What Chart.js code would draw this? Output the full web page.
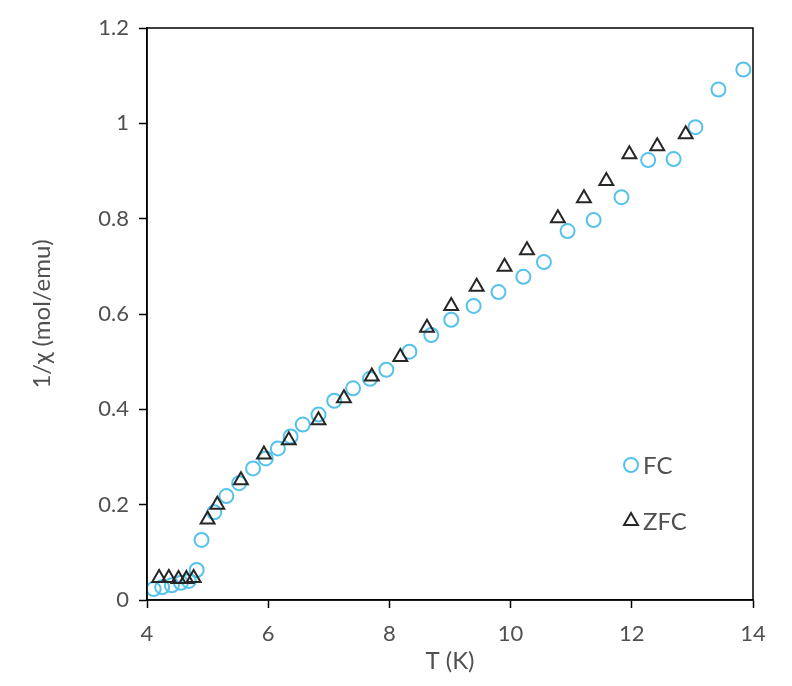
<!DOCTYPE html>
<html>
<head>
<meta charset="utf-8">
<script src="https://cdn.jsdelivr.net/npm/chart.js@4/dist/chart.umd.min.js"></script>
<style>
  html, body { margin: 0; padding: 0; background: #fff; }
  #wrap { width: 792px; height: 686px; }
</style>
</head>
<body>
<div id="wrap"><canvas id="chart" width="792" height="686"></canvas></div>
<script>
// ── Data ─────────────────────────────────────────────────
const fcT   = [4.11, 4.25, 4.41, 4.56, 4.69, 4.82, 4.90, 5.11, 5.31, 5.52, 5.75, 5.96, 6.16, 6.37,
               6.57, 6.83, 7.09, 7.40, 7.68, 7.95, 8.33, 8.69, 9.02, 9.39, 9.80, 10.21, 10.55,
               10.94, 11.37, 11.83, 12.27, 12.69, 13.05, 13.43, 13.84];
const fcInv = [0.023, 0.027, 0.031, 0.036, 0.040, 0.063, 0.126, 0.184, 0.218, 0.245, 0.276, 0.297, 0.318, 0.343,
               0.368, 0.389, 0.418, 0.444, 0.464, 0.483, 0.521, 0.556, 0.588, 0.617, 0.646, 0.678, 0.709,
               0.774, 0.797, 0.845, 0.923, 0.925, 0.992, 1.071, 1.113];

const zfcT   = [4.20, 4.36, 4.52, 4.65, 4.77, 5.00, 5.16, 5.55, 5.93, 6.34, 6.83, 7.25, 7.71, 8.18,
                8.62, 9.02, 9.44, 9.90, 10.27, 10.78, 11.21, 11.58, 11.96, 12.42, 12.89];
const zfcInv = [0.046, 0.046, 0.044, 0.044, 0.046, 0.169, 0.200, 0.251, 0.305, 0.335, 0.377, 0.423, 0.469, 0.510,
                0.571, 0.617, 0.657, 0.699, 0.734, 0.801, 0.843, 0.879, 0.935, 0.952, 0.977];

const xTicks = [4, 6, 8, 10, 12, 14];
const yTicks = [0, 0.2, 0.4, 0.6, 0.8, 1, 1.2];
const seriesNames = ['FC', 'ZFC'];

const FC_COLOR  = '#55c2ec';
const ZFC_COLOR = '#262626';
const TEXT = '#505050';
const FONT = 'Lato, "Open Sans", sans-serif';

const toPts = (xs, ys) => xs.map((x, i) => ({ x, y: ys[i] }));

// ── Plot frame + in-plot legend ──────────────────────────
const framePlugin = {
  id: 'frame',
  afterDraw(chart) {
    const { ctx, chartArea: a } = chart;
    ctx.save();
    ctx.strokeStyle = '#000';
    ctx.lineWidth = 1.5;
    ctx.strokeRect(a.left, a.top, a.right - a.left, a.bottom - a.top);

    // legend inside the plot, lower right
    const items = [
      { text: seriesNames[0], style: 'circle',   color: FC_COLOR,  y: a.top + 437 },
      { text: seriesNames[1], style: 'triangle', color: ZFC_COLOR, y: a.top + 493 },
    ];
    const lx = a.left + 484;
    ctx.font = '24px ' + FONT;
    ctx.textBaseline = 'middle';
    items.forEach(it => {
      ctx.lineWidth = 2;
      ctx.strokeStyle = it.color;
      ctx.fillStyle = 'rgba(0,0,0,0)';
      Chart.helpers.drawPoint(ctx, { pointStyle: it.style, radius: it.style === 'circle' ? 7 : 8, rotation: 0, borderWidth: 2 }, lx, it.y);
      ctx.fillStyle = TEXT;
      ctx.fillText(it.text, lx + 12, it.y + 1);
    });
    ctx.restore();
  }
};

new Chart(document.getElementById('chart'), {
  type: 'scatter',
  data: {
    datasets: [
      {
        label: seriesNames[0],
        data: toPts(fcT, fcInv),
        pointStyle: 'circle',
        pointRadius: 7,
        borderColor: FC_COLOR,
        backgroundColor: 'rgba(0,0,0,0)',
        borderWidth: 2,
        order: 2,
      },
      {
        label: seriesNames[1],
        data: toPts(zfcT, zfcInv),
        pointStyle: 'triangle',
        pointRadius: 8,
        borderColor: ZFC_COLOR,
        backgroundColor: 'rgba(0,0,0,0)',
        borderWidth: 2,
        order: 1,
      },
    ],
  },
  options: {
    responsive: false,
    animation: false,
    layout: { padding: { left: 28, right: 39, top: 28, bottom: 10 } },
    plugins: {
      legend: { display: false },
      tooltip: { enabled: false },
    },
    scales: {
      x: {
        type: 'linear',
        min: 4, max: 14,
        afterBuildTicks: s => { s.ticks = xTicks.map(v => ({ value: v })); },
        afterFit: s => { s.height = 76; },
        grid: { drawOnChartArea: false, color: '#000', tickLength: 8, tickWidth: 1.5 },
        border: { color: '#000', width: 1.5 },
        ticks: { color: TEXT, font: { family: FONT, size: 22 }, padding: 13, maxRotation: 0, callback: v => String(v) },
        title: { display: true, text: 'T (K)', color: TEXT, font: { family: FONT, size: 24 }, padding: { top: 0, bottom: 0 } },
      },
      y: {
        type: 'linear',
        min: 0, max: 1.2,
        afterBuildTicks: s => { s.ticks = yTicks.map(v => ({ value: v })); },
        afterFit: s => { s.width = 119; },
        grid: { drawOnChartArea: false, color: '#000', tickLength: 8, tickWidth: 1.5 },
        border: { color: '#000', width: 1.5 },
        ticks: { color: TEXT, font: { family: FONT, size: 22 }, padding: 10, callback: v => String(v) },
        title: { display: true, text: '1/χ (mol/emu)', color: TEXT, font: { family: FONT, size: 24 }, padding: { top: 0, bottom: 0 } },
      },
    },
  },
  plugins: [framePlugin],
});
</script>
</body>
</html>
